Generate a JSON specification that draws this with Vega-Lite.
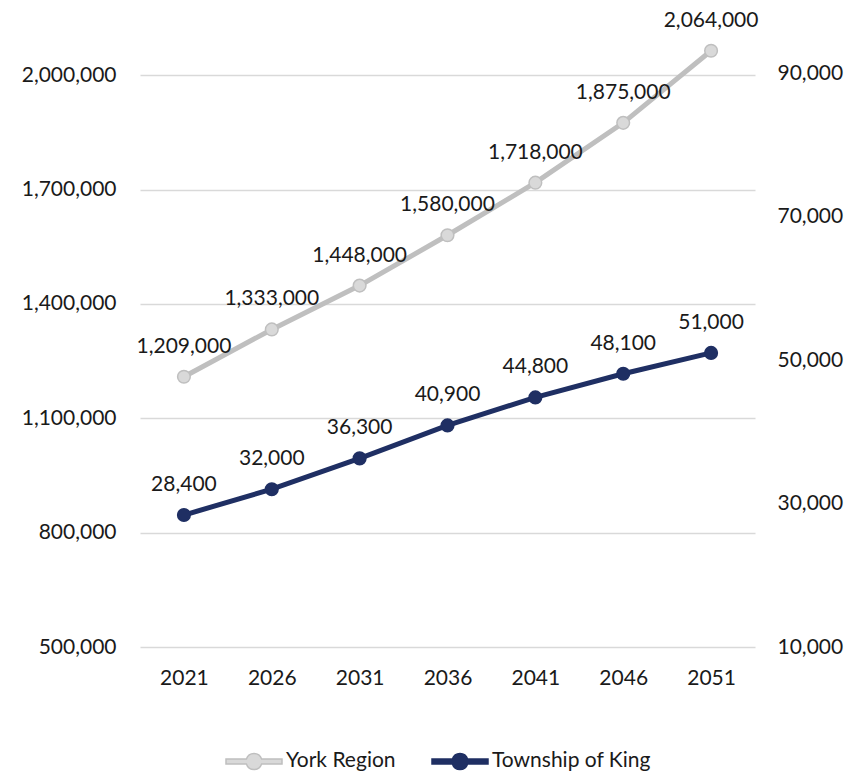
{
  "$schema": "https://vega.github.io/schema/vega-lite/v6.json",
  "width": 615,
  "height": 629,
  "autosize": {"type": "none"},
  "padding": {"left": 140, "top": 18, "right": 108, "bottom": 128},
  "background": "white",
  "config": {
    "view": {"stroke": null},
    "font": "Lato",
    "text": {"font": "Lato"}
  },
  "data": {
    "values": [
      {"year": "2021", "series": "York Region", "value": 1209000},
      {"year": "2026", "series": "York Region", "value": 1333000},
      {"year": "2031", "series": "York Region", "value": 1448000},
      {"year": "2036", "series": "York Region", "value": 1580000},
      {"year": "2041", "series": "York Region", "value": 1718000},
      {"year": "2046", "series": "York Region", "value": 1875000},
      {"year": "2051", "series": "York Region", "value": 2064000},
      {"year": "2021", "series": "Township of King", "value": 28400},
      {"year": "2026", "series": "Township of King", "value": 32000},
      {"year": "2031", "series": "Township of King", "value": 36300},
      {"year": "2036", "series": "Township of King", "value": 40900},
      {"year": "2041", "series": "Township of King", "value": 44800},
      {"year": "2046", "series": "Township of King", "value": 48100},
      {"year": "2051", "series": "Township of King", "value": 51000}
    ]
  },
  "encoding": {
    "x": {
      "field": "year",
      "type": "ordinal",
      "scale": {"type": "point", "padding": 0.5},
      "axis": {
        "title": null,
        "labelAngle": 0,
        "labelFont": "Lato",
        "labelFontSize": 21,
        "labelColor": "#1a1a1a",
        "labelPadding": 20,
        "ticks": false,
        "domain": false,
        "grid": false
      }
    }
  },
  "layer": [
    {
      "transform": [{"filter": "datum.series === 'York Region'"}],
      "encoding": {
        "y": {
          "field": "value",
          "type": "quantitative",
          "scale": {"domain": [500000, 2150000], "nice": false, "zero": false},
          "axis": {
            "orient": "left",
            "title": null,
            "values": [500000, 800000, 1100000, 1400000, 1700000, 2000000],
            "format": ",.0f",
            "labelFont": "Lato",
            "labelFontSize": 21,
            "labelColor": "#1a1a1a",
            "labelPadding": 24,
            "ticks": false,
            "domain": false,
            "grid": true,
            "gridColor": "#D9D9D9",
            "gridWidth": 1.5
          }
        }
      },
      "layer": [
        {
          "mark": {"type": "line", "strokeWidth": 5, "strokeCap": "round"},
          "encoding": {
            "stroke": {
              "field": "series",
              "type": "nominal",
              "scale": {"domain": ["York Region", "Township of King"], "range": ["#BFBFBF", "#1F2F63"]},
              "legend": {
                "title": null,
                "orient": "none",
                "direction": "horizontal",
                "legendX": 85,
                "legendY": 714,
                "padding": 0,
                "symbolType": "M-1,-0.09L-0.2715,-0.09A0.286,0.286,0,0,1,0.2715,-0.09L1,-0.09L1,0.09L0.2715,0.09A0.286,0.286,0,0,1,-0.2715,0.09L-1,0.09Z",
                "symbolSize": 3136,
                "symbolStrokeWidth": 1.5,
                "symbolOpacity": 1,
                "labelFont": "Lato",
                "labelFontSize": 21,
                "labelColor": "#1a1a1a",
                "labelOffset": 3,
                "columnPadding": 33
              }
            }
          }
        },
        {
          "mark": {"type": "point", "filled": true, "size": 160, "strokeWidth": 1.5, "opacity": 1},
          "encoding": {
            "fill": {
              "field": "series",
              "type": "nominal",
              "scale": {"domain": ["York Region", "Township of King"], "range": ["#D9D9D9", "#1F2F63"]},
              "legend": {
                "title": null,
                "orient": "none",
                "direction": "horizontal",
                "legendX": 85,
                "legendY": 714,
                "padding": 0,
                "symbolType": "M-1,-0.09L-0.2715,-0.09A0.286,0.286,0,0,1,0.2715,-0.09L1,-0.09L1,0.09L0.2715,0.09A0.286,0.286,0,0,1,-0.2715,0.09L-1,0.09Z",
                "symbolSize": 3136,
                "symbolStrokeWidth": 1.5,
                "symbolOpacity": 1,
                "labelFont": "Lato",
                "labelFontSize": 21,
                "labelColor": "#1a1a1a",
                "labelOffset": 3,
                "columnPadding": 33
              }
            },
            "stroke": {"field": "series", "type": "nominal"}
          }
        },
        {
          "mark": {"type": "text", "baseline": "alphabetic", "dy": -24, "font": "Lato", "fontSize": 21, "color": "#1a1a1a"},
          "encoding": {"text": {"field": "value", "type": "quantitative", "format": ","}}
        }
      ]
    },
    {
      "transform": [{"filter": "datum.series === 'Township of King'"}],
      "encoding": {
        "y": {
          "field": "value",
          "type": "quantitative",
          "scale": {"domain": [10000, 97700], "nice": false, "zero": false},
          "axis": {
            "orient": "right",
            "title": null,
            "values": [10000, 30000, 50000, 70000, 90000],
            "format": ",.0f",
            "labelFont": "Lato",
            "labelFontSize": 21,
            "labelColor": "#1a1a1a",
            "labelPadding": 22,
            "ticks": false,
            "domain": false,
            "grid": false
          }
        }
      },
      "layer": [
        {
          "mark": {"type": "line", "strokeWidth": 5, "strokeCap": "round"},
          "encoding": {"stroke": {"field": "series", "type": "nominal"}}
        },
        {
          "mark": {"type": "point", "filled": true, "size": 160, "strokeWidth": 1.5, "opacity": 1},
          "encoding": {
            "fill": {"field": "series", "type": "nominal"},
            "stroke": {"field": "series", "type": "nominal"}
          }
        },
        {
          "mark": {"type": "text", "baseline": "alphabetic", "dy": -24, "font": "Lato", "fontSize": 21, "color": "#1a1a1a"},
          "encoding": {"text": {"field": "value", "type": "quantitative", "format": ","}}
        }
      ]
    }
  ],
  "resolve": {"scale": {"y": "independent"}}
}
